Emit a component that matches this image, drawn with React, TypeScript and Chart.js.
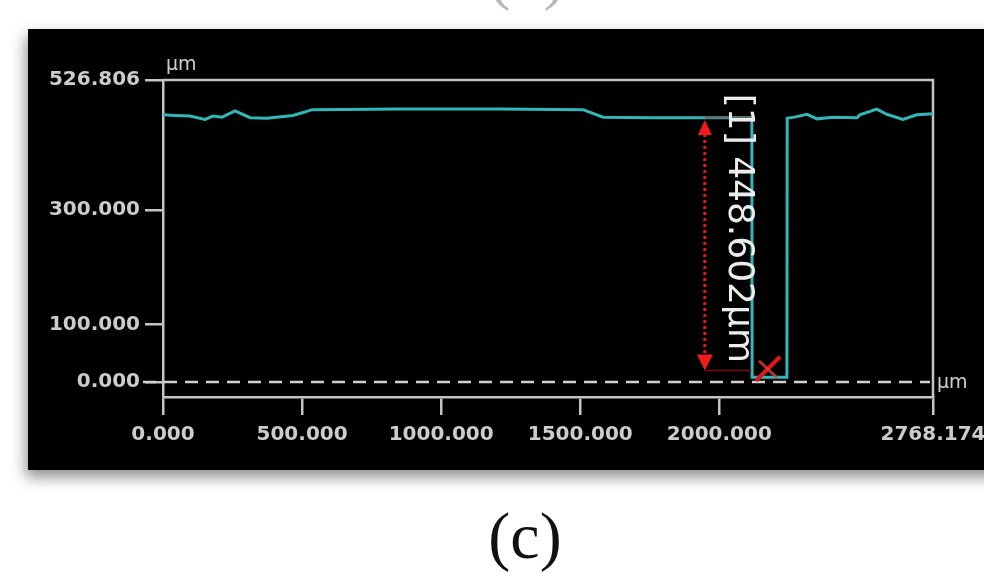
import React, { useEffect, useRef } from "react";
import { Chart, registerables } from "chart.js";

Chart.register(...registerables);

// ---- data (µm) ----
const profileX = [0, 43, 97, 151, 180, 212, 259, 313, 374, 467, 503, 536, 852, 1211, 1510, 1582, 1750, 1930, 2117, 2118, 2243, 2244, 2270, 2315, 2351, 2408, 2495, 2505, 2566, 2602, 2660, 2710, 2768.174];
const profileY = [466, 465, 464, 458, 464, 462, 473, 461, 460, 465, 470, 475, 476, 476, 475, 462, 461, 461, 461, 8, 8, 460, 462, 467, 459, 462, 461, 466, 476, 467, 458, 466, 468];
const xTicks = [0, 500, 1000, 1500, 2000, 2768.174];
const yTicks = [0, 100, 300, 526.806];
const xMax = 2768.174;
const yMin = -26.3;
const yMax = 526.806;
const unitLabel = "µm";
const measureLabel = "[1] 448.602µm";
const measureX = 1948;
const measureTop = 457;
const measureBottom = 20;
const measureRefLevel = 461;
const measureStepX = 2117;
const labelX = 2067;
const labelY = 268;
const markX = 2175;
const markY = 23;
const panelTitle = "(c)";
const prevTitle = "(b)";

const grey = "#c4c4c4";

const overlay = {
  id: "overlay",
  beforeDraw(chart: any) {
    const ctx = chart.ctx;
    ctx.save();
    ctx.fillStyle = "#ffffff";
    ctx.fillRect(0, 0, chart.width, chart.height);
    ctx.shadowColor = "rgba(0,0,0,0.45)";
    ctx.shadowBlur = 14;
    ctx.shadowOffsetY = 7;
    ctx.shadowOffsetX = -2;
    ctx.fillStyle = "#000000";
    ctx.fillRect(28, 29, chart.width, 441);
    ctx.restore();
  },
  beforeDatasetsDraw(chart: any) {
    const { ctx, chartArea, scales } = chart;
    const y0 = scales.y.getPixelForValue(0);
    ctx.save();
    // box top/right
    ctx.strokeStyle = grey;
    ctx.lineWidth = 2.5;
    ctx.beginPath();
    ctx.moveTo(chartArea.left, chartArea.top);
    ctx.lineTo(chartArea.right, chartArea.top);
    ctx.lineTo(chartArea.right, chartArea.bottom);
    ctx.stroke();
    // dashed zero line
    ctx.strokeStyle = "#d0d0d0";
    ctx.lineWidth = 2.5;
    ctx.setLineDash([13, 8]);
    ctx.beginPath();
    ctx.moveTo(chartArea.left - 20, y0);
    ctx.lineTo(chartArea.right - 3, y0);
    ctx.stroke();
    ctx.setLineDash([]);
    // unit labels
    ctx.fillStyle = "#cfcfcf";
    ctx.font = '19px "DejaVu Sans"';
    ctx.textAlign = "left";
    ctx.textBaseline = "alphabetic";
    ctx.fillText(unitLabel, chartArea.left + 3, chartArea.top - 10);
    ctx.textBaseline = "middle";
    ctx.fillText(unitLabel, chartArea.right + 4, y0 + 1);
    ctx.restore();
  },
  afterDatasetsDraw(chart: any) {
    const { ctx, scales } = chart;
    const xs = scales.x, ys = scales.y;
    const ax = xs.getPixelForValue(measureX);
    const yTop = ys.getPixelForValue(measureTop);
    const yBot = ys.getPixelForValue(measureBottom);
    ctx.save();
    // reference lines
    ctx.strokeStyle = "rgba(200,20,20,0.6)";
    ctx.lineWidth = 1.5;
    ctx.beginPath();
    ctx.moveTo(ax, yBot);
    ctx.lineTo(xs.getPixelForValue(measureStepX), yBot);
    ctx.moveTo(ax, ys.getPixelForValue(measureRefLevel));
    ctx.lineTo(xs.getPixelForValue(measureStepX), ys.getPixelForValue(measureRefLevel));
    ctx.stroke();
    // dotted arrow
    ctx.strokeStyle = "#e01818";
    ctx.lineWidth = 3;
    ctx.setLineDash([3, 3]);
    ctx.beginPath();
    ctx.moveTo(ax, yTop + 14);
    ctx.lineTo(ax, yBot - 14);
    ctx.stroke();
    ctx.setLineDash([]);
    ctx.fillStyle = "#f01a1a";
    ctx.beginPath();
    ctx.moveTo(ax, yTop);
    ctx.lineTo(ax - 7, yTop + 15);
    ctx.lineTo(ax + 7, yTop + 15);
    ctx.closePath();
    ctx.fill();
    ctx.beginPath();
    ctx.moveTo(ax, yBot);
    ctx.lineTo(ax - 8, yBot - 16);
    ctx.lineTo(ax + 8, yBot - 16);
    ctx.closePath();
    ctx.fill();
    // X mark
    const mx = xs.getPixelForValue(markX);
    const my = ys.getPixelForValue(markY);
    ctx.strokeStyle = "#e01818";
    ctx.lineWidth = 4;
    ctx.beginPath();
    ctx.moveTo(mx - 12, my + 12);
    ctx.lineTo(mx + 12, my - 12);
    ctx.stroke();
    ctx.strokeStyle = "rgba(230,60,60,0.8)";
    ctx.lineWidth = 3;
    ctx.beginPath();
    ctx.moveTo(mx - 9, my - 8);
    ctx.lineTo(mx + 9, my + 9);
    ctx.stroke();
    // rotated label
    const lx = xs.getPixelForValue(labelX);
    const ly = ys.getPixelForValue(labelY);
    ctx.translate(lx, ly);
    ctx.rotate(Math.PI / 2);
    ctx.fillStyle = "#ececec";
    ctx.font = '36px "DejaVu Sans"';
    ctx.textAlign = "center";
    ctx.textBaseline = "middle";
    ctx.fillText(measureLabel, 0, 0, 272);
    ctx.restore();
  },
  afterDraw(chart: any) {
    const ctx = chart.ctx;
    ctx.save();
    ctx.font = '66px "Liberation Serif"';
    ctx.textAlign = "center";
    ctx.textBaseline = "alphabetic";
    ctx.fillStyle = "#111111";
    ctx.fillText(panelTitle, 525, 558);
    ctx.fillStyle = "#b8b8b8";
    ctx.fillText(prevTitle, 527, -3);
    ctx.restore();
  },
};

export default function App() {
  const ref = useRef<HTMLCanvasElement | null>(null);
  useEffect(() => {
    if (!ref.current) return;
    const chart = new Chart(ref.current, {
      type: "line",
      data: {
        datasets: [
          {
            data: profileX.map((x, i) => ({ x, y: profileY[i] })),
            borderColor: "#33b6b8",
            borderWidth: 3,
            pointRadius: 0,
            tension: 0,
            fill: false,
          },
        ],
      },
      options: {
        animation: false,
        responsive: false,
        devicePixelRatio: 1,
        layout: { padding: { left: 0, right: 51, top: 80, bottom: 117 } },
        plugins: { legend: { display: false }, tooltip: { enabled: false }, title: { display: false } },
        scales: {
          x: {
            type: "linear",
            min: 0,
            max: xMax,
            afterFit: (s: any) => { s.height = 60; s.paddingRight = 0; s.paddingLeft = 0; },
            afterBuildTicks: (s: any) => { s.ticks = xTicks.map((v) => ({ value: v })); },
            ticks: {
              callback: (v: any) => Number(v).toFixed(3),
              color: "#cccccc",
              font: { family: "DejaVu Sans", size: 20, weight: "bold" },
              padding: 8,
              maxRotation: 0,
              autoSkip: false,
            },
            grid: { drawOnChartArea: false, drawTicks: true, tickLength: 18, color: grey, lineWidth: 2.5 },
            border: { display: true, color: grey, width: 2.5 },
          },
          y: {
            type: "linear",
            min: yMin,
            max: yMax,
            afterFit: (s: any) => { s.width = 163; s.paddingTop = 0; s.paddingBottom = 0; },
            afterBuildTicks: (s: any) => { s.ticks = yTicks.map((v) => ({ value: v })); },
            ticks: {
              callback: (v: any) => Number(v).toFixed(3),
              color: "#cccccc",
              font: { family: "DejaVu Sans", size: 20, weight: "bold" },
              padding: 5,
              autoSkip: false,
            },
            grid: { drawOnChartArea: false, drawTicks: true, tickLength: 18, color: grey, lineWidth: 2.5 },
            border: { display: true, color: grey, width: 2.5 },
          },
        },
      },
      plugins: [overlay],
    });
    return () => chart.destroy();
  }, []);
  return (
    <div style={{ position: "fixed", left: 0, top: 0, width: 984, height: 574, background: "#fff" }}>
      <canvas ref={ref} width={984} height={574} style={{ width: 984, height: 574, display: "block" }} />
    </div>
  );
}
